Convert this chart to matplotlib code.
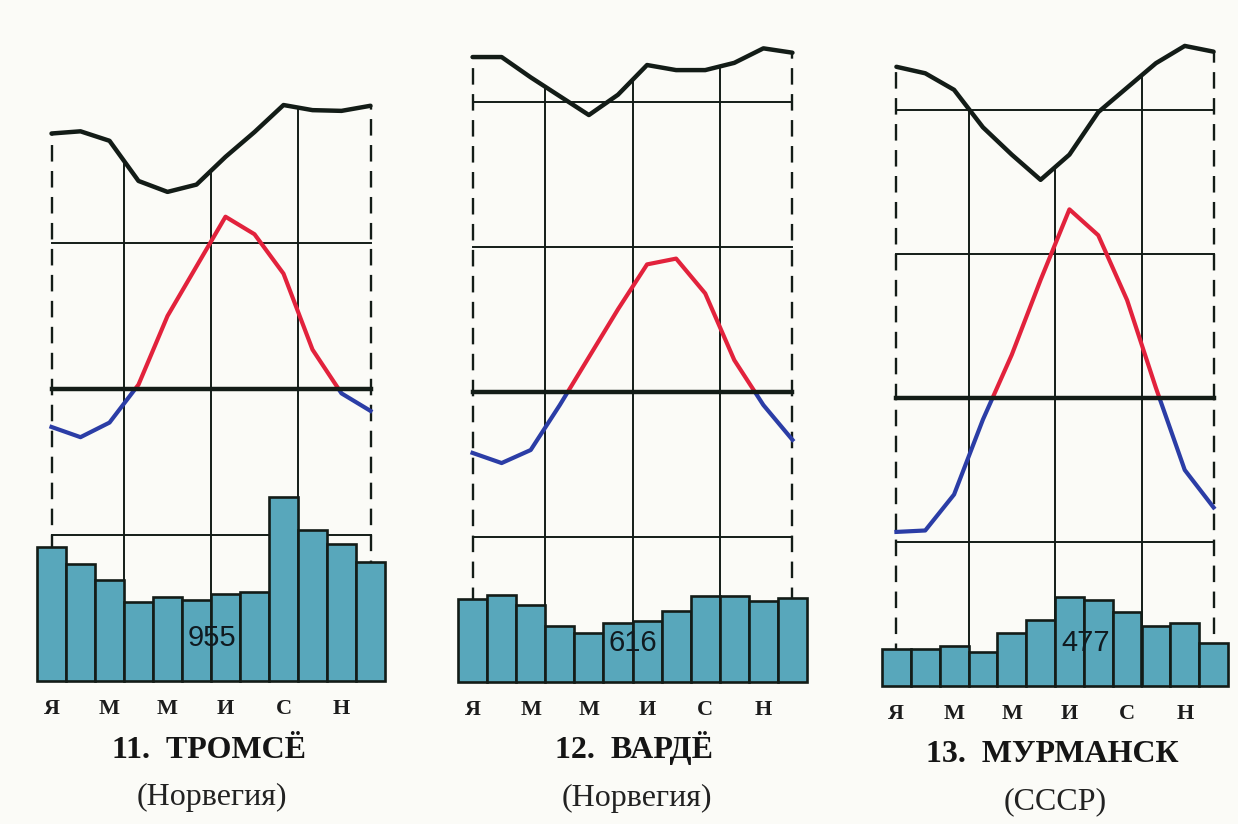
import numpy as np
import matplotlib.pyplot as plt
from matplotlib.patches import Rectangle

# month positions (1..12) and axis letters
months = np.arange(1, 13)
month_letters = ['Я', 'М', 'М', 'И', 'С', 'Н']
letter_pos = [1, 3, 5, 7, 9, 11]

titles = ['11.  ТРОМСЁ', '12.  ВАРДЁ', '13.  МУРМАНСК']
countries = ['(Норвегия)', '(Норвегия)', '(СССР)']
totals = ['955', '616', '477']

# mean monthly temperature, °C
temp_tromso = [-2.6, -3.3, -2.3, 0.3, 5.0, 8.4, 11.8, 10.6, 7.9, 2.7, -0.3, -1.5]
temp_vardo = [-4.2, -4.9, -4.0, -0.9, 2.4, 5.7, 8.8, 9.2, 6.8, 2.2, -0.9, -3.3]
temp_murmansk = [-9.3, -9.2, -6.7, -1.5, 3.0, 8.2, 13.1, 11.3, 6.8, 0.7, -5.0, -7.6]

# relative humidity, %
hum_tromso = [75.0, 75.3, 74.0, 68.5, 67.0, 68.0, 71.8, 75.2, 78.9, 78.2, 78.1, 78.8]
hum_vardo = [86.2, 86.2, 83.4, 80.8, 78.2, 81.0, 85.1, 84.4, 84.4, 85.4, 87.4, 86.8]
hum_murmansk = [86.0, 85.1, 82.8, 77.6, 73.8, 70.3, 73.8, 79.7, 83.1, 86.5, 88.9, 88.1]

# monthly precipitation, mm
prec_tromso = [94, 82, 71, 55, 59, 57, 61, 62, 129, 106, 96, 83]
prec_vardo = [58, 61, 54, 39, 34, 41, 43, 50, 60, 60, 57, 59]
prec_murmansk = [26, 26, 28, 24, 37, 46, 62, 60, 52, 42, 44, 30]

W, H = 1238, 824
T_LO, T_HI = -20, 26
MM_PER_PX = 0.70

BAR = '#58a7bb'
RED = '#e2223c'
BLUE = '#2b3da6'
INK = '#131c17'

# left px, right px, zero-line px, px per degree, top grid line?, title x, title y, subtitle y, total pos
layout = [
    (37, 385, 389, 14.6, False, 209, 758, 805, (6.53, 30)),
    (458, 807, 392, 14.5, True, 634, 758, 806, (6.5, 27)),
    (882, 1228, 398, 14.4, True, 1052, 762, 809, (7.55, 30)),
]
temps = [temp_tromso, temp_vardo, temp_murmansk]
hums = [hum_tromso, hum_vardo, hum_murmansk]
precs = [prec_tromso, prec_vardo, prec_murmansk]

fig = plt.figure(figsize=(W / 100, H / 100), dpi=100, facecolor='#fbfbf7')

for i, (left, right, zero, s, top_line, tx, ty, sy, tpos) in enumerate(layout):
    bottom_px = zero - T_LO * s
    top_px = zero - T_HI * s
    rect = [left / W, 1 - bottom_px / H, (right - left) / W, (bottom_px - top_px) / H]

    # humidity axes at the bottom of the stack, then temperature, then precipitation
    ax_h = fig.add_axes(rect)
    ax_t = ax_h.twinx()
    ax_p = ax_h.twinx()
    for a in (ax_h, ax_t, ax_p):
        a.set_xlim(0.5, 12.5)
        a.axis('off')
    ax_h.set_ylim(40 + 2 * T_LO, 40 + 2 * T_HI)
    ax_t.set_ylim(T_LO, T_HI)
    ax_p.set_ylim(0, (T_HI - T_LO) * s * MM_PER_PX)

    hum = np.array(hums[i])
    for xv in (3.5, 6.5, 9.5):
        ax_h.plot([xv, xv], [0, np.interp(xv, months, hum)], color=INK, lw=1.4)
    for xv in (1, 12):
        ax_h.plot([xv, xv], [0, np.interp(xv, months, hum)], color=INK, lw=1.7,
                  ls=(0, (7, 4)))
    ax_h.plot(months, hum, color=INK, lw=3.2, solid_joinstyle='round',
              solid_capstyle='round')

    levels = [10, -10] + ([20] if top_line else [])
    for lv in levels:
        ax_t.plot([1, 12], [lv, lv], color=INK, lw=1.4)
    ax_t.plot([1, 12], [0, 0], color=INK, lw=3.2, zorder=4)

    warm = ax_t.plot(months, temps[i], color=RED, lw=3.0, zorder=3)[0]
    warm.set_clip_path(Rectangle((0.5, 0), 12, 40, transform=ax_t.transData))
    cold = ax_t.plot(months, temps[i], color=BLUE, lw=3.0, zorder=3)[0]
    cold.set_clip_path(Rectangle((0.5, -40), 12, 40, transform=ax_t.transData))

    ax_p.bar(months, precs[i], width=1.0, color=BAR, edgecolor=INK, lw=1.9,
             clip_on=False)
    ax_p.text(tpos[0], tpos[1], totals[i], ha='center', va='center',
              fontsize=21, family='Liberation Sans', color='#101a20')

    for lbl, m in zip(month_letters, letter_pos):
        ax_p.annotate(lbl, xy=(m, 0), xycoords=('data', 'axes fraction'),
                      xytext=(0, -33), textcoords='offset pixels',
                      ha='center', va='baseline', fontsize=16,
                      fontweight='bold', family='Liberation Serif', color='#1c1c1c')

    fig.text(tx / W, 1 - ty / H, titles[i], ha='center', va='baseline',
             fontsize=23, fontweight='bold', family='Liberation Serif', color='#151515')
    fig.text((tx + 3) / W, 1 - sy / H, countries[i], ha='center', va='baseline',
             fontsize=23, family='Liberation Serif', color='#222')

fig.savefig('out.png', dpi=100, facecolor=fig.get_facecolor())
